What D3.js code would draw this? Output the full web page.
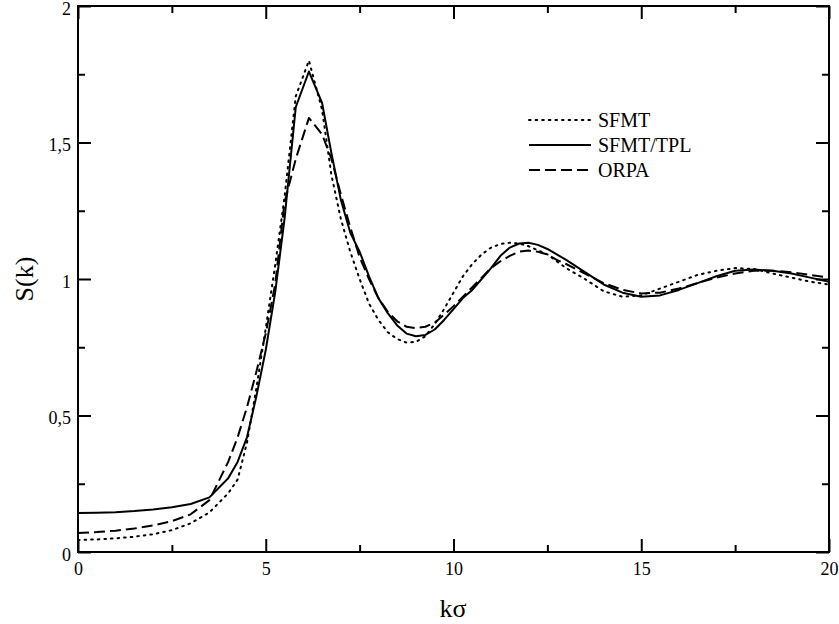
<!DOCTYPE html>
<html>
<head>
<meta charset="utf-8">
<script src="https://cdn.jsdelivr.net/npm/d3@7"></script>
<style>
  html, body { margin: 0; padding: 0; background: #fff; }
  text { font-family: "Liberation Serif", "Times New Roman", serif; fill: #000; }
</style>
</head>
<body>
<svg id="chart" width="839" height="624"></svg>
<script>
const kValues = [0,0.5,1,1.5,2,2.5,3,3.5,4,4.25,4.5,4.75,5,5.25,5.5,5.8,6.15,6.5,6.75,7,7.25,7.5,7.75,8,8.25,8.5,8.75,9,9.25,9.5,9.75,10,10.25,10.5,10.75,11,11.25,11.5,11.75,12,12.25,12.5,12.75,13,13.5,14,14.5,15,15.5,16,16.5,17,17.5,18,18.5,19,19.5,20];

const sfmt = [0.044,0.046,0.05,0.056,0.065,0.08,0.105,0.145,0.215,0.265,0.40,0.60,0.82,1.05,1.30,1.67,1.80,1.62,1.38,1.22,1.10,1.00,0.91,0.85,0.805,0.78,0.767,0.77,0.79,0.835,0.89,0.95,1.01,1.055,1.09,1.115,1.128,1.133,1.13,1.12,1.105,1.09,1.065,1.04,1.0,0.955,0.935,0.94,0.965,0.99,1.015,1.03,1.04,1.037,1.02,1.005,0.99,0.98];

const sfmtTpl = [0.143,0.144,0.146,0.150,0.156,0.164,0.176,0.200,0.27,0.33,0.42,0.57,0.74,0.95,1.22,1.63,1.76,1.645,1.46,1.29,1.17,1.10,1.01,0.93,0.875,0.83,0.80,0.79,0.795,0.815,0.85,0.89,0.93,0.96,1.00,1.04,1.085,1.115,1.13,1.133,1.125,1.11,1.09,1.07,1.025,0.98,0.95,0.935,0.94,0.96,0.985,1.01,1.03,1.035,1.03,1.02,1.005,0.99];

const orpa = [0.070,0.073,0.078,0.086,0.097,0.113,0.138,0.19,0.33,0.42,0.53,0.66,0.80,0.98,1.28,1.44,1.59,1.53,1.44,1.31,1.19,1.08,1.00,0.93,0.88,0.845,0.825,0.82,0.825,0.84,0.87,0.90,0.935,0.97,1.005,1.04,1.065,1.085,1.10,1.104,1.10,1.09,1.07,1.055,1.02,0.985,0.96,0.947,0.95,0.965,0.985,1.005,1.02,1.03,1.03,1.025,1.015,1.005];

const seriesNames = ["SFMT", "SFMT/TPL", "ORPA"];
const xMajorTicks = [0, 5, 10, 15, 20];
const xMinorTicks = [2.5, 7.5, 12.5, 17.5];
const yMajorTicks = [0, 0.5, 1, 1.5, 2];
const yMinorTicks = [0.25, 0.75, 1.25, 1.75];
const yTickLabels = ["0", "0,5", "1", "1,5", "2"];

(function () {
const svg = d3.select("#chart");
const pL = 78, pR = 829, pT = 6, pB = 552;

const x = d3.scaleLinear().domain([0, 20]).range([pL, pR]);
const y = d3.scaleLinear().domain([0, 2]).range([pB, pT]);

const styles = [
  { dash: "1.6,5", cap: "round", width: 2 },
  { dash: null, cap: "butt", width: 2 },
  { dash: "11,5", cap: "butt", width: 2 }
];
const allSeries = [sfmt, sfmtTpl, orpa];

const line = d3.line().x((d, i) => x(kValues[i])).y(d => y(d)).curve(d3.curveLinear);

const plot = svg.append("g");
allSeries.forEach((s, i) => {
  plot.append("path")
    .datum(s)
    .attr("d", line)
    .attr("fill", "none")
    .attr("stroke", "#000")
    .attr("stroke-width", styles[i].width)
    .attr("stroke-linecap", styles[i].cap)
    .attr("stroke-linejoin", "round")
    .attr("stroke-dasharray", styles[i].dash);
});

// Frame
svg.append("rect")
  .attr("x", pL).attr("y", pT)
  .attr("width", pR - pL).attr("height", pB - pT)
  .attr("fill", "none").attr("stroke", "#000").attr("stroke-width", 2);

// Axes (ticks inward)
const major = 13, minor = 7;
svg.append("g").attr("class", "xlab").attr("transform", `translate(0,${pB})`)
  .call(d3.axisBottom(x).tickValues(xMajorTicks).tickSize(-major).tickPadding(10).tickFormat(d3.format("d")));
svg.append("g").attr("transform", `translate(0,${pB})`)
  .call(d3.axisBottom(x).tickValues(xMinorTicks).tickSize(-minor).tickFormat(""));
svg.append("g").attr("transform", `translate(0,${pT})`)
  .call(d3.axisTop(x).tickValues(xMajorTicks).tickSize(-major).tickFormat(""));
svg.append("g").attr("transform", `translate(0,${pT})`)
  .call(d3.axisTop(x).tickValues(xMinorTicks).tickSize(-minor).tickFormat(""));

svg.append("g").attr("class", "ylab").attr("transform", `translate(${pL},0)`)
  .call(d3.axisLeft(y).tickValues(yMajorTicks).tickSize(-major).tickPadding(7).tickFormat((d, i) => yTickLabels[i]));
svg.append("g").attr("transform", `translate(${pL},0)`)
  .call(d3.axisLeft(y).tickValues(yMinorTicks).tickSize(-minor).tickFormat(""));
svg.append("g").attr("transform", `translate(${pR},0)`)
  .call(d3.axisRight(y).tickValues(yMajorTicks).tickSize(-major).tickFormat(""));
svg.append("g").attr("transform", `translate(${pR},0)`)
  .call(d3.axisRight(y).tickValues(yMinorTicks).tickSize(-minor).tickFormat(""));

svg.selectAll(".domain").remove();
svg.selectAll(".tick line").attr("stroke", "#000").attr("stroke-width", 2);
svg.selectAll(".tick text")
  .style("font-family", '"Liberation Serif", serif')
  .style("font-size", "18px")
  .attr("fill", "#000");
svg.selectAll(".ylab .tick text").attr("dy", "0.45em");

// Axis titles
svg.append("text")
  .attr("x", 453).attr("y", 617)
  .attr("text-anchor", "middle")
  .style("font-size", "26px")
  .text("kσ");

svg.append("text")
  .attr("transform", `translate(33,279) rotate(-90)`)
  .attr("text-anchor", "middle")
  .style("font-size", "26px")
  .text("S(k)");

// Legend
const legend = svg.append("g");
seriesNames.forEach((name, i) => {
  const ly = 120 + i * 25;
  legend.append("line")
    .attr("x1", 529).attr("x2", 591)
    .attr("y1", ly).attr("y2", ly)
    .attr("stroke", "#000")
    .attr("stroke-width", styles[i].width)
    .attr("stroke-linecap", styles[i].cap)
    .attr("stroke-dasharray", styles[i].dash);
  legend.append("text")
    .attr("x", 598).attr("y", ly + 7)
    .style("font-size", "20px")
    .text(name);
});
})();
</script>
</body>
</html>
